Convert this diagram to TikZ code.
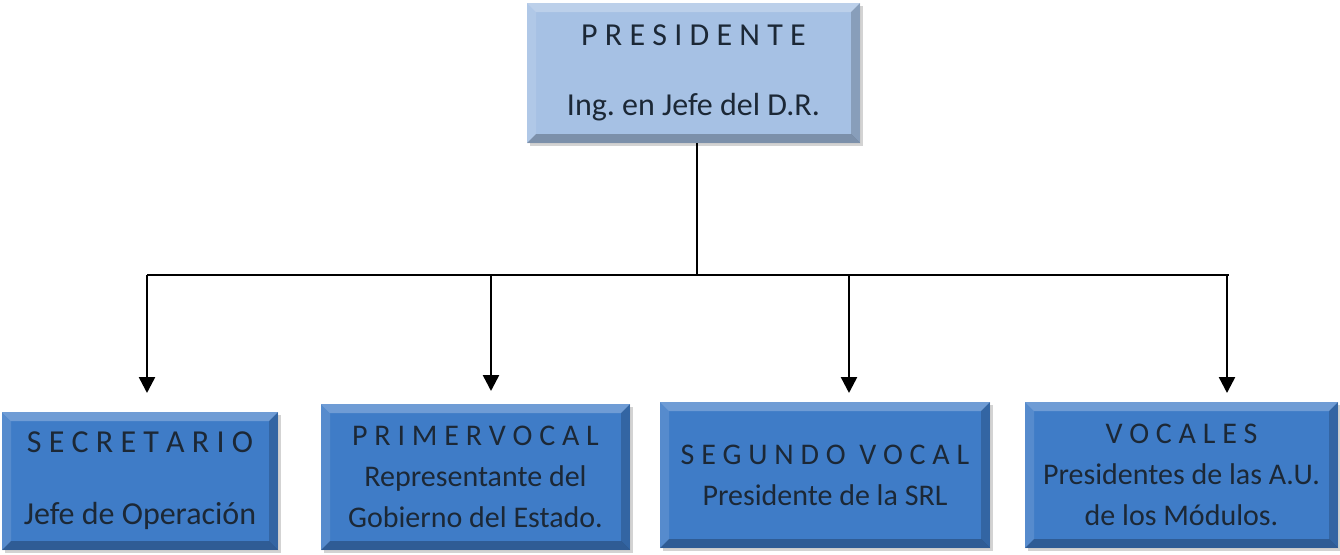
\documentclass[tikz,border=0pt]{standalone}
\usepackage{fontspec}
\setmainfont{Carlito}
\frenchspacing
\usetikzlibrary{arrows.meta,shadows}

\definecolor{boxdark}{HTML}{3F7CC7}
\definecolor{boxlight}{HTML}{A6C1E4}
\definecolor{boxtext}{HTML}{1C2836}

\tikzset{
    orgbox/.style={draw=none, inner sep=0pt, align=center, text=boxtext,
        font=\fontsize{32}{41}\selectfont,
        drop shadow={shadow xshift=3pt, shadow yshift=-3pt, opacity=.35},
        path picture={
            % bevel: light on top and left, dark on bottom and right
            \fill[white, opacity=.25] (path picture bounding box.north west) -- (path picture bounding box.north east)
                -- ([xshift=-9pt,yshift=-9pt]path picture bounding box.north east) -- ([xshift=9pt,yshift=-9pt]path picture bounding box.north west) -- cycle;
            \fill[white, opacity=.12] (path picture bounding box.north west) -- ([xshift=9pt,yshift=-9pt]path picture bounding box.north west)
                -- ([xshift=9pt,yshift=9pt]path picture bounding box.south west) -- (path picture bounding box.south west) -- cycle;
            \fill[black, opacity=.25] (path picture bounding box.south west) -- (path picture bounding box.south east)
                -- ([xshift=-9pt,yshift=9pt]path picture bounding box.south east) -- ([xshift=9pt,yshift=9pt]path picture bounding box.south west) -- cycle;
            \fill[black, opacity=.18] (path picture bounding box.north east) -- ([xshift=-9pt,yshift=-9pt]path picture bounding box.north east)
                -- ([xshift=-9pt,yshift=9pt]path picture bounding box.south east) -- (path picture bounding box.south east) -- cycle;
        }},
    headbox/.style={orgbox, fill=boxlight},
    subbox/.style={orgbox, fill=boxdark},
    smalltext/.style={font=\fontsize{30}{41}\selectfont},
    link/.style={line width=2pt},
    linkarrow/.style={line width=2.5pt, -{Triangle[width=16pt,length=16pt]}}
}

\begin{document}
\begin{tikzpicture}[x=1pt, y=-1pt]
    \useasboundingbox (0,0) rectangle (1340,554);

    % Top box
    \node[headbox, minimum width=333pt, minimum height=140pt] (pres) at (693.5,73)
        {P R E S I D E N T E\\[29pt]Ing. en Jefe del D.R.};

    % Lower boxes
    \node[subbox, minimum width=276pt, minimum height=138pt] (secr) at (140,481)
        {S E C R E T A R I O\\[31pt]Jefe de Operación};
    \node[subbox, smalltext, minimum width=309pt, minimum height=146pt] (pvocal) at (475.5,477)
        {P R I M E R V O C A L\\Representante del\\Gobierno del Estado.};
    \node[subbox, smalltext, minimum width=330pt, minimum height=146pt] (svocal) at (825,475)
        {S E G U N D O\ \ V O C A L\\Presidente de la SRL};
    \node[subbox, smalltext, minimum width=313pt, minimum height=146pt] (vocales) at (1181.5,475)
        {V O C A L E S\\Presidentes de las A.U.\\de los Módulos.};

    % Branch points
    \coordinate (bus) at (697,275);
    \coordinate (b1) at (147,275);
    \coordinate (b2) at (491,275);
    \coordinate (b3) at (849,275);
    \coordinate (b4) at (1227,275);
    \coordinate (busend) at (1229,275);
    \coordinate (t1) at (147,393);
    \coordinate (t2) at (491,391);
    \coordinate (t3) at (849,393);
    \coordinate (t4) at (1227,393);

    % Connectors
    \draw[link] (pres.south -| bus) -- (bus);
    \draw[link] (b1) -- (busend);
    \draw[linkarrow] (b1) -- (t1);
    \draw[linkarrow] (b2) -- (t2);
    \draw[linkarrow] (b3) -- (t3);
    \draw[linkarrow] (b4) -- (t4);
\end{tikzpicture}
\end{document}
